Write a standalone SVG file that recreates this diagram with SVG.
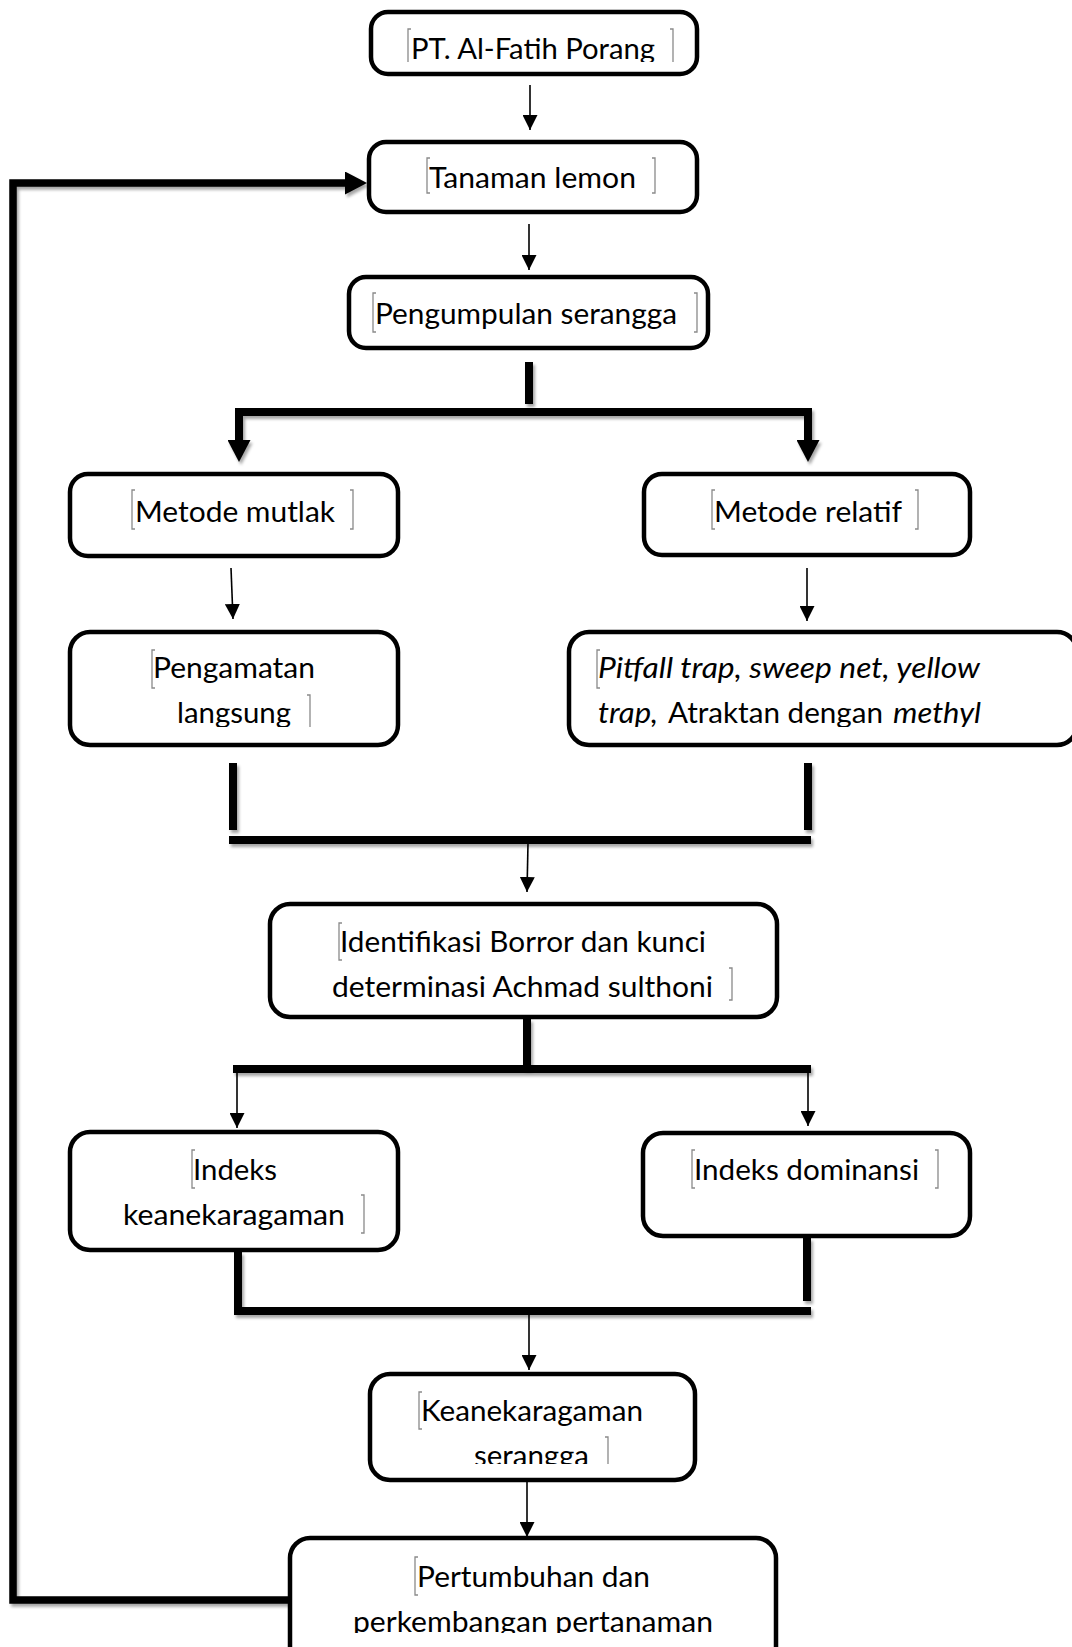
<svg xmlns="http://www.w3.org/2000/svg" width="1072" height="1647" viewBox="0 0 1072 1647">
<style>
.box{fill:#fff;stroke:#000;stroke-width:4.5}
.t{font-family:Lato,"Liberation Sans",sans-serif;font-size:29.5px;fill:#000}
.i{font-style:italic}
.br{fill:none;stroke:#8a8a8a;stroke-width:1.3}
.thin{fill:none;stroke:#000;stroke-width:1.6;marker-end:url(#ah)}
.thick{fill:none;stroke:#000;stroke-width:8;stroke-linejoin:miter;filter:url(#sh)}
</style>
<defs>
<marker id="ah" viewBox="0 0 15 15" refX="15" refY="7.5" markerWidth="15" markerHeight="15" markerUnits="userSpaceOnUse" orient="auto"><path d="M0,0 L15,7.5 L0,15 z" fill="#000"/></marker>
<marker id="ahT" viewBox="0 0 22 23" refX="0" refY="11.5" markerWidth="22" markerHeight="23" markerUnits="userSpaceOnUse" orient="auto-start-reverse"><path d="M0,0 L22,11.5 L0,23 z" fill="#000"/></marker>
<filter id="sh" filterUnits="userSpaceOnUse" x="0" y="0" width="1072" height="1647"><feDropShadow dx="2" dy="3" stdDeviation="1.5" flood-color="#000" flood-opacity="0.35"/></filter>
<clipPath id="c1"><rect x="0" y="0" width="1072" height="62"/></clipPath>
<clipPath id="c5"><rect x="0" y="600" width="1072" height="127"/></clipPath>
<clipPath id="c11"><rect x="0" y="1380" width="1072" height="84"/></clipPath>
<clipPath id="c12"><rect x="0" y="1540" width="1072" height="93"/></clipPath>
</defs>

<g id="connectors">
<path class="thin" d="M530 85 L530 130"/>
<path class="thin" d="M529 224 L529 270"/>
<path class="thick" d="M529 362 L529 404"/>
<path class="thick" d="M239 440 L239 412 L808 412 L808 440" style="marker-start:url(#ahT);marker-end:url(#ahT)"/>
<path class="thin" d="M231 568 L233 619"/>
<path class="thin" d="M807 568 L807 621"/>
<path class="thick" d="M233 763 L233 830"/>
<path class="thick" d="M808 763 L808 830"/>
<path class="thick" d="M229 840 L811 840"/>
<path class="thin" d="M528 843 L527 892"/>
<path class="thick" d="M527 1019 L527 1069"/>
<path class="thick" d="M233 1069 L811 1069"/>
<path class="thin" d="M237 1073 L237 1128"/>
<path class="thin" d="M808 1073 L808 1126"/>
<path class="thick" d="M238 1252 L238 1311 L811 1311"/>
<path class="thick" d="M807 1238 L807 1301"/>
<path class="thin" d="M529 1315 L529 1370"/>
<path class="thin" d="M527 1482 L527 1537"/>
<path class="thick" d="M290 1600 L13 1600 L13 183 L345 183" style="stroke-width:7.5;marker-end:url(#ahT)"/>
</g>

<g id="n1">
<rect class="box" x="371" y="12" width="326" height="62" rx="17"/>
<g clip-path="url(#c1)">
<text class="t" x="411" y="59" textLength="244" lengthAdjust="spacingAndGlyphs">PT. Al-Fatih Porang</text>
<path class="br" d="M411 29 L408 29 L408 70 L411 70 M670 29 L673 29 L673 70 L670 70"/>
</g>
</g>

<g id="n2">
<rect class="box" x="369" y="142" width="328" height="70" rx="17"/>
<text class="t" x="429" y="188" textLength="207" lengthAdjust="spacingAndGlyphs">Tanaman lemon</text>
<path class="br" d="M430 158 L427 158 L427 193 L430 193 M652 158 L655 158 L655 193 L652 193"/>
</g>

<g id="n3">
<rect class="box" x="349" y="277" width="359" height="71" rx="17"/>
<text class="t" x="375" y="324" textLength="302" lengthAdjust="spacingAndGlyphs">Pengumpulan serangga</text>
<path class="br" d="M376 293 L373 293 L373 332 L376 332 M694 293 L697 293 L697 332 L694 332"/>
</g>

<g id="n4">
<rect class="box" x="70" y="474" width="328" height="82" rx="18"/>
<text class="t" x="135" y="522" textLength="200" lengthAdjust="spacingAndGlyphs">Metode mutlak</text>
<path class="br" d="M135 490 L132 490 L132 529 L135 529 M350 490 L353 490 L353 529 L350 529"/>
</g>

<g id="n5">
<rect class="box" x="70" y="632" width="328" height="113" rx="20"/>
<g clip-path="url(#c5)">
<text class="t" x="153" y="678" textLength="162" lengthAdjust="spacingAndGlyphs">Pengamatan</text>
<text class="t" x="177" y="723" textLength="114" lengthAdjust="spacingAndGlyphs">langsung</text>
<path class="br" d="M155 650 L152 650 L152 688 L155 688 M307 695 L310 695 L310 734 L307 734"/>
</g>
</g>

<g id="n6">
<rect class="box" x="644" y="474" width="326" height="81" rx="18"/>
<text class="t" x="714" y="522" textLength="188" lengthAdjust="spacingAndGlyphs">Metode relatif</text>
<path class="br" d="M715 490 L712 490 L712 529 L715 529 M915 490 L918 490 L918 529 L915 529"/>
</g>

<g id="n7">
<rect class="box" x="569" y="632" width="508" height="113" rx="20"/>
<g clip-path="url(#c5)">
<text class="t i" x="598" y="678" textLength="382" lengthAdjust="spacingAndGlyphs">Pitfall trap, sweep net, yellow</text>
<text class="t i" x="598" y="723" textLength="60" lengthAdjust="spacingAndGlyphs">trap,</text>
<text class="t" x="668" y="723" textLength="215" lengthAdjust="spacingAndGlyphs">Atraktan dengan</text>
<text class="t i" x="893" y="723" textLength="88" lengthAdjust="spacingAndGlyphs">methyl</text>
<path class="br" d="M600 650 L597 650 L597 688 L600 688"/>
</g>
</g>

<g id="n8">
<rect class="box" x="270" y="904" width="507" height="113" rx="20"/>
<text class="t" x="340" y="952" textLength="366" lengthAdjust="spacingAndGlyphs">Identifikasi Borror dan kunci</text>
<text class="t" x="332" y="997" textLength="381" lengthAdjust="spacingAndGlyphs">determinasi Achmad sulthoni</text>
<path class="br" d="M342 923 L339 923 L339 960 L342 960 M729 968 L732 968 L732 1000 L729 1000"/>
</g>

<g id="n9">
<rect class="box" x="70" y="1132" width="328" height="118" rx="20"/>
<text class="t" x="193" y="1180" textLength="84" lengthAdjust="spacingAndGlyphs">Indeks</text>
<text class="t" x="123" y="1225" textLength="222" lengthAdjust="spacingAndGlyphs">keanekaragaman</text>
<path class="br" d="M195 1150 L192 1150 L192 1188 L195 1188 M361 1195 L364 1195 L364 1233 L361 1233"/>
</g>

<g id="n10">
<rect class="box" x="643" y="1133" width="327" height="103" rx="20"/>
<text class="t" x="694" y="1180" textLength="225" lengthAdjust="spacingAndGlyphs">Indeks dominansi</text>
<path class="br" d="M695 1150 L692 1150 L692 1188 L695 1188 M935 1150 L938 1150 L938 1188 L935 1188"/>
</g>

<g id="n11">
<rect class="box" x="370" y="1374" width="325" height="106" rx="20"/>
<g clip-path="url(#c11)">
<text class="t" x="421" y="1421" textLength="222" lengthAdjust="spacingAndGlyphs">Keanekaragaman</text>
<text class="t" x="474" y="1466" textLength="115" lengthAdjust="spacingAndGlyphs">serangga</text>
<path class="br" d="M422 1392 L419 1392 L419 1429 L422 1429 M605 1437 L608 1437 L608 1475 L605 1475"/>
</g>
</g>

<g id="n12">
<rect class="box" x="290" y="1538" width="486" height="140" rx="20"/>
<g clip-path="url(#c12)">
<text class="t" x="417" y="1587" textLength="233" lengthAdjust="spacingAndGlyphs">Pertumbuhan dan</text>
<text class="t" x="353" y="1632" textLength="360" lengthAdjust="spacingAndGlyphs">perkembangan pertanaman</text>
<path class="br" d="M418 1557 L415 1557 L415 1595 L418 1595"/>
</g>
</g>
</svg>
